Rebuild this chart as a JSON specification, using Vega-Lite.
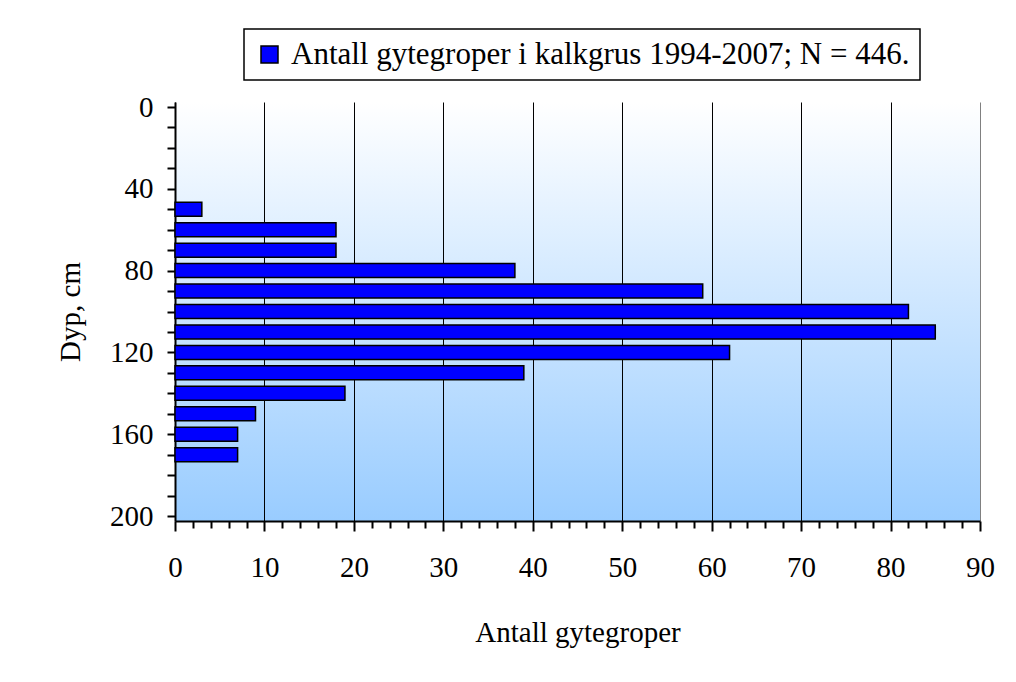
{
  "$schema": "https://vega.github.io/schema/vega-lite/v6.json",
  "autosize": "none",
  "width": 805,
  "height": 419,
  "padding": {"left": 175, "top": 102, "right": 36, "bottom": 161},
  "background": "white",
  "config": {
    "font": "Liberation Serif",
    "legend": {"strokeWidth": 1.5},
    "view": {
      "stroke": null,
      "fill": {"gradient": "linear", "x1": 0, "y1": 0, "x2": 0, "y2": 1, "stops": [{"offset": 0, "color": "#FFFFFF"}, {"offset": 1, "color": "#99CCFF"}]}
    }
  },
  "data": {
    "values": [
      {"depth": 50, "count": 3, "series": "Antall gytegroper i kalkgrus 1994-2007; N = 446."},
      {"depth": 60, "count": 18, "series": "Antall gytegroper i kalkgrus 1994-2007; N = 446."},
      {"depth": 70, "count": 18, "series": "Antall gytegroper i kalkgrus 1994-2007; N = 446."},
      {"depth": 80, "count": 38, "series": "Antall gytegroper i kalkgrus 1994-2007; N = 446."},
      {"depth": 90, "count": 59, "series": "Antall gytegroper i kalkgrus 1994-2007; N = 446."},
      {"depth": 100, "count": 82, "series": "Antall gytegroper i kalkgrus 1994-2007; N = 446."},
      {"depth": 110, "count": 85, "series": "Antall gytegroper i kalkgrus 1994-2007; N = 446."},
      {"depth": 120, "count": 62, "series": "Antall gytegroper i kalkgrus 1994-2007; N = 446."},
      {"depth": 130, "count": 39, "series": "Antall gytegroper i kalkgrus 1994-2007; N = 446."},
      {"depth": 140, "count": 19, "series": "Antall gytegroper i kalkgrus 1994-2007; N = 446."},
      {"depth": 150, "count": 9, "series": "Antall gytegroper i kalkgrus 1994-2007; N = 446."},
      {"depth": 160, "count": 7, "series": "Antall gytegroper i kalkgrus 1994-2007; N = 446."},
      {"depth": 170, "count": 7, "series": "Antall gytegroper i kalkgrus 1994-2007; N = 446."}
    ]
  },
  "mark": {"type": "bar", "orient": "horizontal", "size": 14, "stroke": "black", "strokeWidth": 1.5},
  "encoding": {
    "y": {
      "field": "depth", "type": "quantitative",
      "scale": {"domain": [0, 200], "reverse": true, "nice": false, "zero": false},
      "axis": {
        "title": "Dyp, cm",
        "values": [0,10,20,30,40,50,60,70,80,90,100,110,120,130,140,150,160,170,180,190,200],
        "labelExpr": "datum.value % 40 == 0 ? datum.label : ''",
        "labelFlush": false, "labelOverlap": false,
        "grid": false,
        "domainColor": "black", "domainWidth": 2,
        "tickColor": "black", "tickWidth": 2, "tickSize": 8,
        "labelFontSize": 29, "labelColor": "black", "labelPadding": 14, "labelFont": "Liberation Serif",
        "titleFontSize": 29, "titleFontWeight": "normal", "titleColor": "black", "titleFont": "Liberation Serif",
        "titlePadding": 24
      }
    },
    "x": {
      "field": "count", "type": "quantitative",
      "scale": {"domain": [0, 90], "nice": false},
      "axis": {
        "title": "Antall gytegroper",
        "values": [0,2,4,6,8,10,12,14,16,18,20,22,24,26,28,30,32,34,36,38,40,42,44,46,48,50,52,54,56,58,60,62,64,66,68,70,72,74,76,78,80,82,84,86,88,90],
        "labelExpr": "datum.value % 10 == 0 ? datum.label : ''",
        "labelFlush": false, "labelOverlap": false,
        "grid": true,
        "gridColor": {"condition": {"test": "datum.value == 90", "value": "#808080"}, "value": "black"},
        "gridOpacity": {"condition": {"test": "datum.value % 10 == 0", "value": 1}, "value": 0},
        "gridWidth": 1,
        "domainColor": "black", "domainWidth": 2,
        "tickColor": "black", "tickWidth": 2,
        "tickSize": {"condition": {"test": "datum.value % 10 == 0", "value": 10}, "value": 7},
        "labelFontSize": 29, "labelColor": "black", "labelPadding": 22, "labelFont": "Liberation Serif",
        "titleFontSize": 29, "titleFontWeight": "normal", "titleColor": "black", "titleFont": "Liberation Serif",
        "titlePadding": 36
      }
    },
    "color": {
      "field": "series", "type": "nominal",
      "scale": {"range": ["#0000FF"]},
      "legend": {
        "title": null,
        "orient": "none", "legendX": 69, "legendY": -73,
        "direction": "vertical",
        "fillColor": "white", "strokeColor": "black",
        "padding": 10,
        "symbolType": "square", "symbolSize": 289, "symbolStrokeColor": "black", "symbolStrokeWidth": 1.5,
        "labelFontSize": 31, "labelFont": "Liberation Serif", "labelColor": "black", "labelLimit": 1000, "labelOffset": 6
      }
    }
  }
}
